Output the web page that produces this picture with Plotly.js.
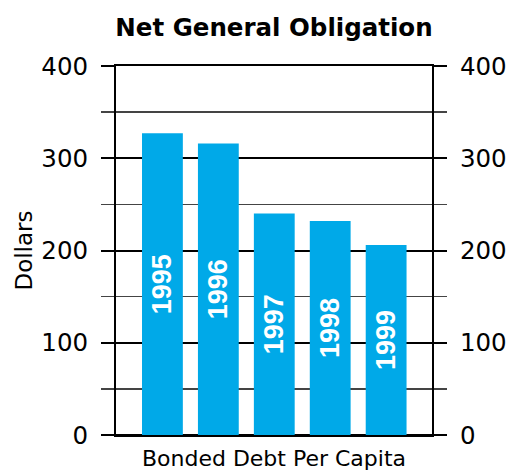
<!DOCTYPE html>
<html>
<head>
<meta charset="utf-8">
<script src="https://cdn.plot.ly/plotly-3.0.1.min.js"></script>
<style>html,body{margin:0;padding:0;background:#fff;}#chart{width:508px;height:473px;}</style>
</head>
<body>
<div id="chart"></div>
<script>
const years = [1995, 1996, 1997, 1998, 1999];
const yearLabels = ["1995", "1996", "1997", "1998", "1999"];
const debtPerCapita = [327, 316, 240, 232, 206];
const yTickVals = [0, 100, 200, 300, 400];
const yTickText = ["0", "100", "200", "300", "400"];
const yMinorVals = [50, 150, 250, 350];

const FONT = "DejaVu Sans, Verdana, sans-serif";
const BAR_FONT = "Liberation Sans, Arial, sans-serif";
const barColor = "#00a9e8";

const data = [{
  type: "bar",
  x: years,
  y: debtPerCapita,
  text: yearLabels,
  textposition: "inside",
  insidetextanchor: "middle",
  textangle: -90,
  textfont: {family: BAR_FONT, size: 27, weight: 600, color: "#ffffff"},
  marker: {color: barColor, line: {width: 0}},
  width: 0.73,
  hoverinfo: "skip"
}, {
  type: "scatter",
  mode: "markers",
  x: years,
  y: debtPerCapita,
  yaxis: "y2",
  marker: {opacity: 0, size: 1},
  hoverinfo: "skip",
  showlegend: false
}];

const yCommon = {
  range: [0, 400],
  tickmode: "array",
  tickvals: yTickVals,
  ticktext: yTickText,
  ticks: "outside",
  ticklen: 13,
  tickwidth: 2,
  tickcolor: "#000",
  ticklabelstandoff: 8,
  tickfont: {family: FONT, size: 24.5, color: "#000"},
  showline: true,
  linecolor: "#000",
  linewidth: 2,
  fixedrange: true
};

const layout = {
  width: 508,
  height: 473,
  margin: {l: 116, r: 76, t: 66, b: 38},
  paper_bgcolor: "#fff",
  plot_bgcolor: "#fff",
  showlegend: false,
  title: {
    text: "<b>Net General Obligation</b>",
    font: {family: FONT, size: 24.5, color: "#000"},
    x: 0.5, xref: "paper", xanchor: "center",
    y: 1 - 27 / 473, yref: "container", yanchor: "middle"
  },
  xaxis: {
    range: [1994.17, 1999.82],
    showticklabels: false,
    ticks: "",
    showgrid: false,
    zeroline: false,
    showline: true,
    mirror: true,
    linecolor: "#000",
    linewidth: 2,
    fixedrange: true,
    title: {text: "Bonded Debt Per Capita", font: {family: FONT, size: 22, color: "#000"}, standoff: 15}
  },
  yaxis: Object.assign({}, yCommon, {
    side: "left",
    showgrid: true,
    gridcolor: "#000",
    gridwidth: 2,
    zeroline: true,
    zerolinecolor: "#000",
    zerolinewidth: 2,
    minor: {tickmode: "array", tickvals: yMinorVals, ticks: "outside", ticklen: 13, tickwidth: 1.5, tickcolor: "#444", showgrid: true, gridcolor: "#444", gridwidth: 1.5},
    title: {text: "Dollars", font: {family: FONT, size: 23, color: "#000"}, standoff: 2}
  }),
  yaxis2: Object.assign({}, yCommon, {
    side: "right",
    overlaying: "y",
    showgrid: false,
    zeroline: false,
    minor: {tickmode: "array", tickvals: yMinorVals, ticks: "outside", ticklen: 13, tickwidth: 1.5, tickcolor: "#444", showgrid: false}
  })
};

Plotly.newPlot("chart", data, layout, {displayModeBar: false, staticPlot: true});
</script>
</body>
</html>
